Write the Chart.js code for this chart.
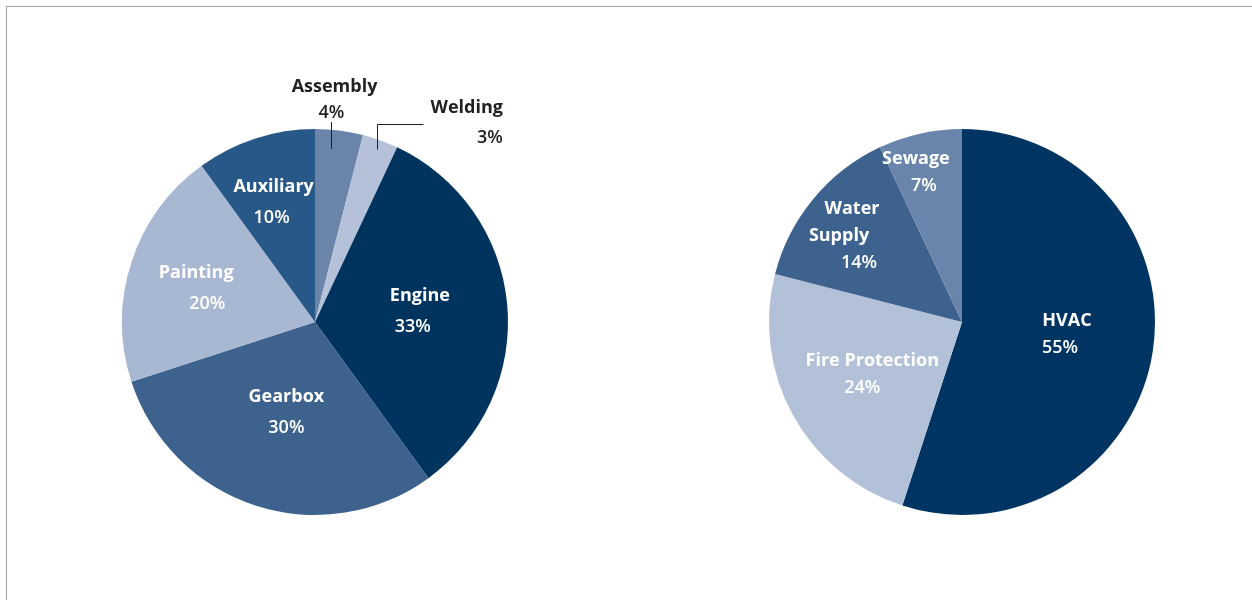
<!DOCTYPE html>
<html>
<head>
<meta charset="utf-8">
<script src="https://cdn.jsdelivr.net/npm/chart.js@4.4.0/dist/chart.umd.min.js"></script>
<style>
  html, body { margin: 0; padding: 0; background: #fff; }
  body { width: 1252px; height: 600px; position: relative; overflow: hidden; }
  .frame {
    position: absolute; left: 6px; top: 6px; width: 1400px; height: 800px;
    border-top: 1px solid #a3a3a3; border-left: 1px solid #a3a3a3;
  }
  .pie { position: absolute; width: 500px; height: 500px; top: 72px; }
  #left { left: 65px; }
  #right { left: 712px; }
</style>
</head>
<body>
<div class="frame"></div>
<div class="pie" id="left"><canvas id="productionChart"></canvas></div>
<div class="pie" id="right"><canvas id="buildingChart"></canvas></div>
<script>
// left pie: production areas
const productionCategories = ['Assembly', 'Welding', 'Engine', 'Gearbox', 'Painting', 'Auxiliary']
const productionShares = [4, 3, 33, 30, 20, 10]
const productionColors = ['#6a84aa', '#b4c1d8', '#00345f', '#3d628e', '#a9b8d2', '#285887']

// right pie: building services
const buildingCategories = ['HVAC', 'Fire Protection', ['Water', 'Supply'], 'Sewage']
const buildingShares = [55, 24, 14, 7]
const buildingColors = ['#003462', '#b3c1d8', '#3d628e', '#6a85ab']

const FONT = '"Open Sans", "Noto Sans", sans-serif'
const DARK = '#231f20'

// label placement: r = fraction of radius along mid angle,
// dx = nudge per text line (names first, then the percent)
const productionPlacement = [
  { callout: 'up' },
  { callout: 'right' },
  { r: 0.53, dx: [3, -4], dy: -1 },
  { r: 0.48, dx: [0, 0], dy: 2 },
  { r: 0.62, dx: [-5, 6], dy: 3 },
  { r: 0.66, dx: [-2, -4], dy: 2 },
]
const buildingPlacement = [
  { r: 0.53, dx: [4, -3], dy: -4 },
  { r: 0.56, dx: [5, -5], dy: 0 },
  { r: 0.78, dx: [6, -7, 13], dy: 10 },
  { r: 0.81, dx: [-12, -4], dy: 3 },
]

const sliceLabels = {
  id: 'sliceLabels',
  afterDatasetsDraw(chart, args, opts) {
    const ctx = chart.ctx
    const meta = chart.getDatasetMeta(0)
    const labels = chart.data.labels
    const values = chart.data.datasets[0].data
    const nameFont = `bold 18px ${FONT}`
    const pctFont = `600 18px ${FONT}`

    ctx.save()
    ctx.textBaseline = 'middle'
    meta.data.forEach((arc, i) => {
      const place = opts.placement[i]
      const mid = (arc.startAngle + arc.endAngle) / 2
      const R = arc.outerRadius
      const lines = [].concat(labels[i])
      const pct = values[i] + '%'

      if (place.callout) {
        ctx.strokeStyle = DARK
        ctx.lineWidth = 1
        ctx.fillStyle = DARK
        if (place.callout === 'up') {
          const a = arc.startAngle + (arc.endAngle - arc.startAngle) * 0.36
          const x0 = Math.round(arc.x + Math.cos(a) * R * 0.9) + 0.5
          const y0 = arc.y + Math.sin(a) * R * 0.9
          const yTop = arc.y - R - 7
          ctx.beginPath()
          ctx.moveTo(x0, y0)
          ctx.lineTo(x0, yTop)
          ctx.stroke()
          ctx.textAlign = 'center'
          ctx.font = pctFont
          ctx.fillText(pct, x0, yTop - 9)
          ctx.font = nameFont
          ctx.fillText(lines[0], x0 + 3, yTop - 35)
        } else {
          const x0 = Math.round(arc.x + Math.cos(mid) * R * 0.95) + 0.5
          const y0 = arc.y + Math.sin(mid) * R * 0.95
          const yTop = Math.round(arc.y - R - 5) + 0.5
          const x1 = x0 + 46
          ctx.beginPath()
          ctx.moveTo(x0, y0)
          ctx.lineTo(x0, yTop)
          ctx.lineTo(x1, yTop)
          ctx.stroke()
          ctx.font = nameFont
          ctx.textAlign = 'left'
          const w = ctx.measureText(lines[0]).width
          ctx.fillText(lines[0], x1 + 7, yTop - 17)
          ctx.font = pctFont
          ctx.textAlign = 'right'
          ctx.fillText(pct, x1 + 7 + w, yTop + 13)
        }
        return
      }

      const cx = arc.x + Math.cos(mid) * R * place.r
      const cy = arc.y + Math.sin(mid) * R * place.r + (place.dy || 0)
      const all = lines.concat([pct])
      const gap = opts.lineGap
      ctx.fillStyle = '#ffffff'
      ctx.textAlign = 'center'
      all.forEach((text, k) => {
        ctx.font = k < lines.length ? nameFont : pctFont
        const nudge = place.dx[k] || 0
        ctx.fillText(text, cx + nudge, cy + (k - (all.length - 1) / 2) * gap)
      })
    })
    ctx.restore()
  },
}

function makePie(id, categories, shares, colors, placement, lineGap) {
  return new Chart(document.getElementById(id), {
    type: 'pie',
    data: {
      labels: categories,
      datasets: [
        {
          data: shares,
          backgroundColor: colors,
          borderWidth: 0,
        },
      ],
    },
    options: {
      responsive: true,
      maintainAspectRatio: false,
      animation: false,
      layout: { padding: 57 },
      plugins: {
        legend: { display: false },
        tooltip: { enabled: false },
        sliceLabels: { placement: placement, lineGap: lineGap },
      },
    },
    plugins: [sliceLabels],
  })
}

makePie('productionChart', productionCategories, productionShares, productionColors, productionPlacement, 31)
makePie('buildingChart', buildingCategories, buildingShares, buildingColors, buildingPlacement, 27)
</script>
</body>
</html>
